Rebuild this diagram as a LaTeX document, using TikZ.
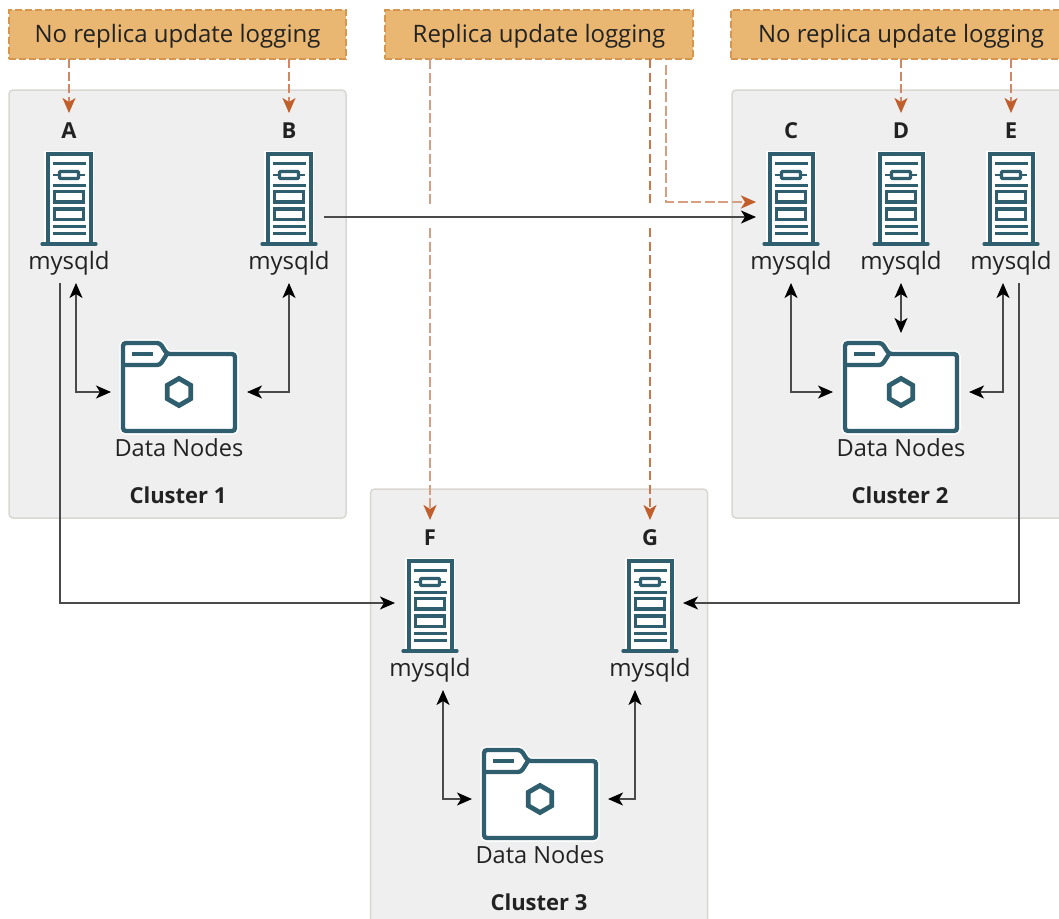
\documentclass[tikz,border=0pt]{standalone}
\usepackage{fontspec}
\setmainfont{Open Sans}
\usetikzlibrary{arrows.meta}
\definecolor{teal1}{HTML}{2F5F6E}
\definecolor{rust1}{HTML}{C05F2C}
\definecolor{rust2}{HTML}{D89E80}
\definecolor{rust3}{HTML}{CF8768}
\definecolor{rust4}{HTML}{C9784E}
\definecolor{amber1}{HTML}{E9B772}
\definecolor{amber2}{HTML}{D69650}
\definecolor{panel1}{HTML}{EFEFEF}
\definecolor{panel2}{HTML}{D9D7D1}
\definecolor{ink1}{HTML}{222222}
\definecolor{wire1}{HTML}{4A4A4A}
\tikzset{
tipbk/.tip={Stealth[length=15pt,width=13pt,inset=4pt,black]},
tipor/.tip={Stealth[length=15pt,width=13pt,inset=4pt,rust1]},
clusterbox/.style={draw=panel2,fill=panel1,line width=1.5pt,rounded corners=4pt,minimum width=337pt,minimum height=428pt,inner sep=0pt,outer sep=0pt},
logbox/.style={draw=amber2,fill=amber1,line width=1.3pt,dash pattern=on 7pt off 3pt,minimum height=49pt,inner sep=0pt,outer sep=0pt,text=ink1,text height=17pt,text depth=1pt,font=\fontsize{24}{28}\selectfont},
srvbox/.style={minimum width=70pt,minimum height=96pt,inner sep=0pt,outer sep=0pt},
letterbox/.style={minimum height=36pt,inner sep=0pt,outer sep=0pt,text=ink1,font=\bfseries\fontsize{22}{26}\selectfont},
mysbox/.style={minimum height=41pt,inner sep=0pt,outer sep=0pt,text=ink1,text height=19pt,text depth=5pt,font=\fontsize{24}{28}\selectfont},
databox/.style={minimum width=136pt,minimum height=118pt,inner sep=0pt,outer sep=0pt},
textbox/.style={inner sep=0pt,outer sep=0pt,text=ink1,font=\fontsize{23.6}{28}\selectfont},
titlebox/.style={inner sep=0pt,outer sep=0pt,text=ink1,font=\bfseries\fontsize{22}{26}\selectfont},
wirebi/.style={tipbk-tipbk,draw=wire1,line width=1.3pt},
wireone/.style={-tipbk,draw=wire1,line width=1.3pt},
logarrow/.style={-tipor,draw=rust3,line width=1.6pt,dash pattern=on 9pt off 3.5pt},
logwide/.style={draw=rust2,line width=2.4pt,dash pattern=on 10pt off 3.5pt},
logthin/.style={draw=rust4,line width=1.2pt,dash pattern=on 9pt off 4.5pt},
servericon/.pic={
\draw[white,fill=white,line width=6.5pt](-21.5,44)--(-21.5,-45)--(21.5,-45)--(21.5,44)--cycle;
\draw[teal1,line width=4pt](-21.5,44)--(-21.5,-45)--(21.5,-45)--(21.5,44);
\draw[teal1,line width=3.2pt,line cap=round](-27,45)--(27,45);
\foreach \y/\w in {-35.5/3,-14/3,27/3,34/3}{\draw[teal1,line width=\w pt](-16.5,\y)--(16.5,\y);}
\draw[teal1,line width=2.8pt](-16,-24)--(16,-24);
\draw[teal1,fill=white,line width=3.4pt,rounded corners=1pt](-9.5,-27.5)rectangle(9.5,-20.5);
\draw[teal1,fill=white,line width=3.6pt](-14.5,-7.5)rectangle(14.5,3);
\draw[teal1,fill=white,line width=3.6pt](-14.5,10)rectangle(14.5,20.5);
},
foldericon/.pic={
\draw[white,fill=white,line width=7.5pt,rounded corners=3pt](-56,39)--(-56,-49)--(-19,-49)--(-12,-38)--(56,-38)--(56,39)--cycle;
\draw[teal1,line width=4.4pt,rounded corners=3pt](-56,39)--(-56,-49)--(-19,-49)--(-12,-38)--(56,-38)--(56,39)--cycle;
\draw[teal1,line width=4.4pt,rounded corners=3pt](-56,-27)--(-19,-27)--(-12,-38);
\draw[teal1,line width=4.4pt](-47,-38)--(-26,-38);
\draw[teal1,line width=4.8pt](0,-13.5)--(11.7,-6.75)--(11.7,6.75)--(0,13.5)--(-11.7,6.75)--(-11.7,-6.75)--cycle;
}
}
\begin{document}
\begin{tikzpicture}[x=1pt,y=-1pt]
\clip(0,0)rectangle(1059,918);
\node[clusterbox](clu1) at (177.5,304){};
\node[clusterbox,minimum width=338pt](clu2) at (901,304){};
\node[clusterbox,minimum height=460pt](clu3) at (539,719){};
\node[logbox,minimum width=337pt](logA) at (177.5,34.5){No replica update logging};
\node[logbox,minimum width=308pt](logB) at (539,34.5){Replica update logging};
\node[logbox,minimum width=340pt](logC) at (901,34.5){No replica update logging};
\foreach \n/\x/\y in {A/69/199,B/289/199,C/791/199,D/901/199,E/1011/199,F/430/606,G/650/606}{
\pic at (\x,\y) {servericon};
\node[srvbox](srv\n) at (\x,\y){};
\node[letterbox](let\n) at (\x,\y-68){\n};
\node[mysbox](mys\n) at (\x,\y+63.5){mysqld};
}
\foreach \n/\x/\y in {1/179/392,2/901/392,3/540/799}{
\pic at (\x,\y) {foldericon};
\node[databox](data\n) at (\x,\y){};
\node[textbox](dtxt\n) at (\x,\y+56){Data Nodes};
\node[titlebox](ctxt\n) at (\x-1,\y+103){Cluster \n};
}
\draw[wirebi]([xshift=7pt]mysA.south)|-(data1.west);
\draw[wirebi](mysB.south)|-(data1.east);
\draw[wirebi](mysC.south)|-(data2.west);
\draw[wirebi](mysD.south)--(data2.north);
\draw[wirebi]([xshift=-8pt]mysE.south)|-(data2.east);
\draw[wirebi]([xshift=13pt]mysF.south)|-(data3.west);
\draw[wirebi]([xshift=-15pt]mysG.south)|-(data3.east);
\draw[wireone]([yshift=-18pt]srvB.east)--([yshift=-18pt]srvC.west);
\draw[wireone]([xshift=-9pt]mysA.south)|-([yshift=3pt]srvF.west);
\draw[wireone]([xshift=8pt]mysE.south)|-([xshift=-2pt,yshift=3pt]srvG.east);
\draw[logarrow](logA.south -| letA.north)--(letA.north);
\draw[logarrow](logA.south -| letB.north)--(letB.north);
\draw[logarrow](logC.south -| letD.north)--(letD.north);
\draw[logarrow](logC.south -| letE.north)--(letE.north);
\coordinate(gapF1) at (430,207);
\coordinate(gapF2) at (430,228);
\coordinate(gapG1) at (650,207);
\coordinate(gapG2) at (650,228);
\coordinate(repC) at (666,65);
\draw[logwide](logB.south -| letF.north)--(gapF1);
\draw[logwide,-tipor](gapF2)--(letF.north);
\draw[logthin](logB.south -| letG.north)--(gapG1);
\draw[logthin,-tipor](gapG2)--(letG.north);
\draw[logwide,-tipor](repC)|-([yshift=-3pt]srvC.west);
\end{tikzpicture}
\end{document}
